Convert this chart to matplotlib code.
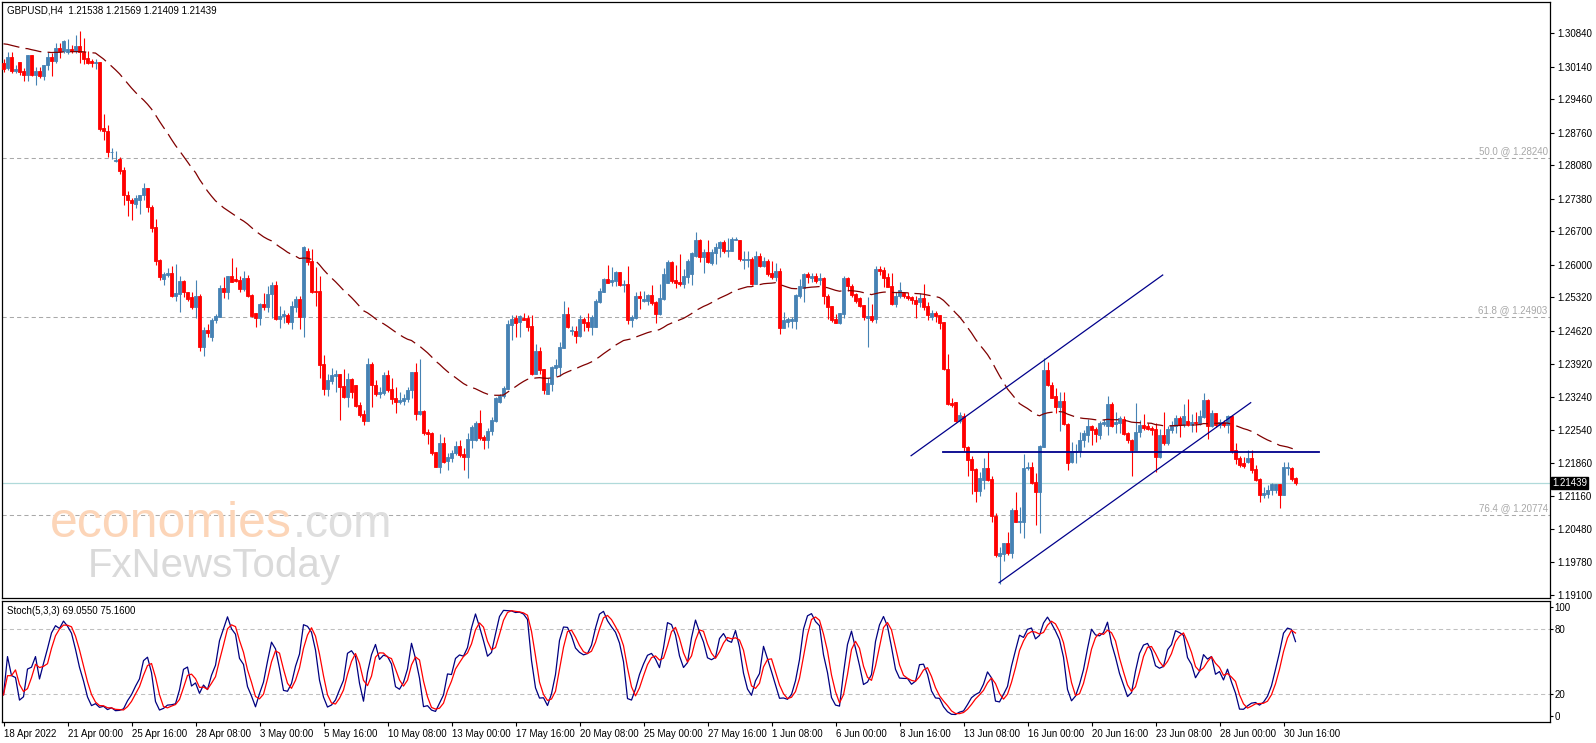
import numpy as np
import pandas as pd
import matplotlib
matplotlib.use("Agg")
import matplotlib.pyplot as plt
import matplotlib.transforms as mtrans

plt.rcParams["font.family"] = ["Liberation Sans", "DejaVu Sans"]

# GBPUSD H4 candles, prices in units of 0.0001 (13021 -> 1.3021)
OPEN = [
    13021, 13012, 13035, 13006, 13023, 13006, 12997, 13039, 12997, 13006, 12994, 13017, 13035, 13027, 13053, 13047, 13044, 13051, 13047, 13058,
    13044, 13033, 13027, 13021, 13025, 12887, 12880, 12835, 12817, 12821, 12798, 12745, 12736, 12727, 12736, 12745, 12760, 12720, 12679, 12610,
    12571, 12579, 12583, 12536, 12539, 12566, 12543, 12532, 12513, 12536, 12429, 12464, 12450, 12484, 12492, 12552, 12544, 12577, 12570, 12568,
    12550, 12572, 12537, 12499, 12490, 12518, 12511, 12539, 12557, 12487, 12494, 12495, 12480, 12513, 12529, 12492, 12629, 12608, 12545, 12545,
    12392, 12341, 12357, 12368, 12371, 12346, 12324, 12362, 12349, 12308, 12288, 12273, 12392, 12350, 12330, 12332, 12370, 12341, 12322, 12313,
    12316, 12320, 12339, 12376, 12288, 12294, 12251, 12249, 12208, 12178, 12227, 12191, 12196, 12206, 12222, 12205, 12199, 12234, 12234, 12270,
    12240, 12234, 12252, 12274, 12313, 12325, 12341, 12475, 12488, 12480, 12490, 12488, 12472, 12372, 12420, 12383, 12330, 12351, 12384, 12387,
    12426, 12498, 12461, 12462, 12452, 12487, 12480, 12471, 12470, 12523, 12544, 12570, 12565, 12566, 12585, 12557, 12560, 12484, 12488, 12535,
    12525, 12525, 12537, 12523, 12497, 12529, 12563, 12605, 12569, 12565, 12560, 12574, 12581, 12619, 12652, 12616, 12626, 12603, 12624, 12635,
    12647, 12628, 12629, 12652, 12651, 12611, 12611, 12612, 12560, 12619, 12598, 12608, 12582, 12574, 12587, 12468, 12480, 12483, 12483, 12535,
    12551, 12581, 12573, 12577, 12568, 12573, 12535, 12514, 12487, 12479, 12497, 12573, 12556, 12539, 12530, 12516, 12490, 12493, 12486, 12591,
    12589, 12574, 12556, 12518, 12534, 12541, 12535, 12532, 12527, 12523, 12530, 12514, 12492, 12500, 12495, 12481, 12382, 12312, 12313, 12274,
    12285, 12220, 12194, 12173, 12128, 12150, 12175, 12152, 12076, 11992, 11996, 12018, 11997, 12088, 12063, 12063, 12176, 12178, 12147, 12126,
    12220, 12380, 12350, 12325, 12304, 12316, 12267, 12187, 12208, 12210, 12234, 12244, 12263, 12257, 12244, 12267, 12264, 12309, 12267, 12270,
    12278, 12248, 12234, 12214, 12250, 12265, 12263, 12260, 12257, 12199, 12244, 12227, 12255, 12264, 12281, 12265, 12274, 12265, 12272, 12267,
    12283, 12318, 12264, 12290, 12265, 12271, 12265, 12284, 12213, 12196, 12185, 12189, 12196, 12173, 12152, 12119, 12121, 12129, 12129, 12143,
    12120, 12176, 12176, 12154,
]
HIGH = [
    13030, 13044, 13044, 13018, 13025, 13011, 13039, 13039, 13014, 13014, 13018, 13044, 13042, 13063, 13063, 13070, 13072, 13060, 13081, 13089,
    13075, 13046, 13030, 13030, 13025, 12916, 12893, 12845, 12837, 12825, 12805, 12755, 12739, 12745, 12747, 12771, 12760, 12725, 12695, 12613,
    12585, 12593, 12597, 12602, 12577, 12568, 12544, 12544, 12568, 12539, 12470, 12476, 12489, 12498, 12558, 12575, 12577, 12615, 12596, 12577,
    12588, 12579, 12539, 12500, 12521, 12542, 12555, 12565, 12567, 12514, 12506, 12500, 12525, 12536, 12536, 12640, 12635, 12633, 12596, 12577,
    12411, 12371, 12384, 12381, 12371, 12382, 12374, 12364, 12349, 12313, 12297, 12405, 12398, 12359, 12344, 12376, 12380, 12363, 12344, 12334,
    12330, 12344, 12377, 12395, 12404, 12297, 12256, 12251, 12208, 12246, 12241, 12206, 12213, 12231, 12233, 12217, 12248, 12266, 12273, 12297,
    12245, 12259, 12282, 12323, 12330, 12347, 12484, 12495, 12495, 12495, 12499, 12495, 12495, 12435, 12428, 12383, 12363, 12389, 12403, 12438,
    12525, 12513, 12472, 12472, 12495, 12492, 12499, 12495, 12528, 12551, 12573, 12600, 12596, 12588, 12586, 12569, 12598, 12495, 12544, 12546,
    12546, 12539, 12558, 12525, 12559, 12593, 12610, 12609, 12599, 12622, 12591, 12612, 12626, 12668, 12654, 12633, 12652, 12633, 12645, 12649,
    12651, 12656, 12658, 12658, 12652, 12629, 12629, 12617, 12629, 12624, 12616, 12612, 12609, 12603, 12593, 12501, 12492, 12491, 12539, 12570,
    12582, 12586, 12582, 12584, 12582, 12575, 12539, 12514, 12497, 12500, 12577, 12574, 12560, 12541, 12532, 12516, 12532, 12518, 12598, 12598,
    12595, 12584, 12584, 12544, 12565, 12544, 12544, 12534, 12534, 12541, 12559, 12523, 12506, 12504, 12495, 12481, 12414, 12321, 12314, 12293,
    12290, 12221, 12201, 12175, 12168, 12196, 12210, 12159, 12082, 12011, 12018, 12042, 12091, 12126, 12095, 12205, 12187, 12189, 12164, 12224,
    12405, 12398, 12356, 12342, 12335, 12335, 12269, 12230, 12226, 12251, 12254, 12277, 12265, 12262, 12274, 12277, 12325, 12314, 12293, 12284,
    12284, 12251, 12236, 12312, 12276, 12288, 12269, 12263, 12269, 12258, 12293, 12263, 12274, 12286, 12284, 12309, 12320, 12288, 12293, 12297,
    12332, 12320, 12297, 12291, 12277, 12276, 12286, 12286, 12227, 12201, 12199, 12213, 12213, 12182, 12154, 12136, 12140, 12145, 12143, 12143,
    12189, 12189, 12178, 12157,
]
LOW = [
    13004, 13008, 13002, 13001, 12997, 12985, 12985, 12994, 12976, 12990, 12987, 13008, 12994, 13021, 13032, 13042, 13041, 13042, 13042, 13021,
    13019, 13020, 13014, 13009, 12880, 12860, 12826, 12821, 12814, 12790, 12725, 12703, 12694, 12718, 12706, 12736, 12710, 12668, 12599, 12569,
    12557, 12574, 12532, 12525, 12501, 12532, 12525, 12508, 12488, 12419, 12410, 12449, 12440, 12478, 12491, 12530, 12528, 12565, 12565, 12543,
    12546, 12532, 12491, 12471, 12474, 12506, 12502, 12488, 12484, 12468, 12478, 12477, 12466, 12502, 12466, 12450, 12599, 12541, 12515, 12364,
    12329, 12327, 12352, 12335, 12276, 12322, 12304, 12321, 12304, 12283, 12265, 12273, 12304, 12327, 12322, 12329, 12335, 12310, 12290, 12309,
    12308, 12313, 12321, 12276, 12287, 12245, 12226, 12203, 12178, 12165, 12185, 12171, 12189, 12203, 12198, 12171, 12154, 12217, 12231, 12234,
    12215, 12217, 12245, 12272, 12312, 12321, 12340, 12442, 12449, 12450, 12484, 12461, 12370, 12372, 12371, 12330, 12330, 12337, 12367, 12368,
    12426, 12468, 12454, 12436, 12450, 12461, 12461, 12454, 12470, 12520, 12543, 12562, 12556, 12555, 12555, 12544, 12477, 12470, 12487, 12507,
    12523, 12516, 12516, 12479, 12495, 12527, 12562, 12562, 12551, 12555, 12551, 12562, 12558, 12617, 12607, 12584, 12603, 12600, 12602, 12616,
    12624, 12616, 12629, 12651, 12609, 12591, 12596, 12558, 12560, 12596, 12596, 12577, 12571, 12567, 12456, 12468, 12471, 12468, 12465, 12530,
    12523, 12563, 12565, 12563, 12558, 12518, 12486, 12481, 12478, 12477, 12488, 12546, 12532, 12521, 12511, 12485, 12429, 12481, 12478, 12579,
    12554, 12553, 12516, 12511, 12530, 12530, 12527, 12518, 12488, 12513, 12506, 12485, 12485, 12481, 12467, 12380, 12307, 12304, 12272, 12270,
    12210, 12159, 12121, 12105, 12117, 12131, 12149, 12062, 11989, 11934, 11982, 11994, 11987, 12063, 12039, 12029, 12171, 12143, 12056, 12040,
    12220, 12346, 12321, 12290, 12252, 12265, 12171, 12185, 12185, 12198, 12220, 12230, 12224, 12230, 12237, 12263, 12244, 12262, 12248, 12248,
    12244, 12227, 12159, 12214, 12241, 12255, 12255, 12244, 12168, 12196, 12224, 12224, 12248, 12248, 12241, 12262, 12263, 12251, 12251, 12265,
    12279, 12237, 12262, 12262, 12260, 12262, 12249, 12206, 12184, 12178, 12175, 12185, 12164, 12149, 12105, 12112, 12112, 12119, 12124, 12091,
    12119, 12161, 12149, 12141,
]
CLOSE = [
    13009, 13035, 13006, 13010, 13003, 12996, 13039, 12997, 13006, 12995, 13018, 13035, 13027, 13053, 13047, 13067, 13051, 13047, 13058, 13044,
    13030, 13021, 13021, 13025, 12884, 12880, 12835, 12836, 12819, 12797, 12745, 12736, 12729, 12739, 12745, 12760, 12720, 12678, 12609, 12574,
    12581, 12584, 12535, 12541, 12566, 12544, 12529, 12513, 12536, 12429, 12464, 12458, 12485, 12494, 12552, 12544, 12577, 12565, 12566, 12550,
    12572, 12535, 12494, 12490, 12518, 12511, 12539, 12557, 12487, 12494, 12497, 12480, 12514, 12529, 12492, 12638, 12607, 12544, 12544, 12391,
    12341, 12359, 12370, 12372, 12344, 12324, 12362, 12335, 12306, 12287, 12273, 12392, 12349, 12330, 12334, 12369, 12339, 12320, 12313, 12318,
    12322, 12339, 12376, 12288, 12294, 12249, 12247, 12206, 12178, 12227, 12189, 12198, 12206, 12222, 12203, 12199, 12236, 12261, 12270, 12238,
    12234, 12253, 12276, 12321, 12327, 12342, 12477, 12487, 12479, 12493, 12485, 12471, 12372, 12420, 12381, 12339, 12353, 12386, 12391, 12429,
    12498, 12470, 12464, 12452, 12487, 12478, 12470, 12492, 12525, 12546, 12570, 12563, 12569, 12586, 12557, 12560, 12484, 12491, 12535, 12530,
    12528, 12537, 12520, 12497, 12530, 12581, 12605, 12567, 12562, 12560, 12576, 12609, 12624, 12652, 12616, 12626, 12605, 12626, 12637, 12647,
    12628, 12631, 12654, 12654, 12612, 12612, 12612, 12560, 12619, 12598, 12608, 12580, 12574, 12587, 12468, 12485, 12486, 12486, 12537, 12555,
    12581, 12575, 12577, 12566, 12573, 12534, 12511, 12485, 12479, 12499, 12573, 12555, 12537, 12525, 12514, 12491, 12493, 12485, 12591, 12588,
    12572, 12554, 12518, 12535, 12548, 12534, 12530, 12527, 12518, 12530, 12513, 12495, 12500, 12493, 12479, 12382, 12309, 12307, 12274, 12286,
    12220, 12192, 12171, 12128, 12154, 12175, 12150, 12076, 11994, 11997, 12018, 11997, 12088, 12063, 12065, 12175, 12178, 12145, 12126, 12221,
    12380, 12349, 12322, 12304, 12316, 12267, 12185, 12211, 12211, 12235, 12248, 12263, 12255, 12246, 12270, 12271, 12309, 12264, 12271, 12279,
    12246, 12234, 12214, 12251, 12265, 12260, 12258, 12255, 12199, 12244, 12227, 12258, 12265, 12281, 12265, 12284, 12265, 12272, 12269, 12285,
    12318, 12264, 12291, 12265, 12271, 12265, 12284, 12210, 12194, 12182, 12180, 12196, 12171, 12150, 12120, 12124, 12129, 12143, 12143, 12120,
    12177, 12178, 12152, 12144,
]

DATE_LABELS = ["18 Apr 2022", "21 Apr 00:00", "25 Apr 16:00", "28 Apr 08:00", "3 May 00:00",
               "5 May 16:00", "10 May 08:00", "13 May 00:00", "17 May 16:00", "20 May 08:00",
               "25 May 00:00", "27 May 16:00", "1 Jun 08:00", "6 Jun 00:00", "8 Jun 16:00",
               "13 Jun 08:00", "16 Jun 00:00", "20 Jun 16:00", "23 Jun 08:00", "28 Jun 00:00",
               "30 Jun 16:00"]
BARS_PER_LABEL = 16
PRICE_TICKS = [1.30840, 1.30140, 1.29460, 1.28760, 1.28080, 1.27380, 1.26700, 1.26000, 1.25320,
               1.24620, 1.23920, 1.23240, 1.22540, 1.21860, 1.21160, 1.20480, 1.19780, 1.19100]
STOCH_TICKS = [0, 20, 80, 100]

HEADER = "GBPUSD,H4  1.21538 1.21569 1.21409 1.21439"
STOCH_LABEL = "Stoch(5,3,3) 69.0550 75.1600"
LAST_PRICE = 1.21439
EMA_PERIOD = 50
EMA_AT_FIRST_BAR = 1.3062
FIB_LEVELS = [("50.0", 1.28240), ("61.8", 1.24903), ("76.4", 1.20774)]
# trend lines as (bar index, price) anchors
CHANNEL_LINES = [((226.9, 1.22012), (289.8, 1.25788)),
                 ((248.9, 1.19358), (311.8, 1.23120))]
SUPPORT_LINE = ((234.9, 1.22082), (328.9, 1.22082))

n = len(CLOSE)
assert all(len(a) == n for a in (OPEN, HIGH, LOW)), [len(a) for a in (OPEN, HIGH, LOW, CLOSE)]
o = np.array(OPEN) / 1e4
h = np.array(HIGH) / 1e4
l = np.array(LOW) / 1e4
c = np.array(CLOSE) / 1e4
x = np.arange(n)

# EMA(50) of closes
ema = np.empty(n)
ema[0] = EMA_AT_FIRST_BAR
alpha = 2.0 / (EMA_PERIOD + 1)
for i in range(1, n):
    ema[i] = ema[i - 1] + alpha * (c[i] - ema[i - 1])

# Stochastic(5,3,3)
hh = pd.Series(h).rolling(5, min_periods=1).max()
ll = pd.Series(l).rolling(5, min_periods=1).min()
k = 100 * (pd.Series(c) - ll).rolling(3, min_periods=1).sum() / (hh - ll).rolling(3, min_periods=1).sum()
d = k.rolling(3, min_periods=1).mean()

BLUE = "#4682B4"
RED = "#FF0000"
W, H = 1596, 743


def box(left, top, right, bottom):
    return [left / W, 1 - bottom / H, (right - left) / W, (bottom - top) / H]


fig = plt.figure(figsize=(W / 100, H / 100), dpi=100)
ax = fig.add_axes(box(2, 2, 1550, 598))
sx = fig.add_axes(box(2, 601, 1550, 722))
xlim = (-0.375, 386.625)

# --- price panel ---
ax.set_xlim(*xlim)
ax.set_ylim(1.19038, 1.31494)
for lev_name, lev in FIB_LEVELS:
    ax.axhline(lev, color="#A9A9A9", lw=0.75, ls=(0, (4, 3)), zorder=1)
    ax.text(0.9985, lev + 0.0004, f"{lev_name} @ {lev:.5f}", transform=ax.get_yaxis_transform(),
            ha="right", va="bottom", fontsize=7, color="#A8A8A8")
ax.axhline(LAST_PRICE, color="#B0DADA", lw=0.9, zorder=1)

# watermark
fig.text(50 / W, 1 - 537 / H, "economies", fontsize=36, color="#FCD5B8", va="baseline", zorder=0)
fig.text(293 / W, 1 - 537 / H, ".com", fontsize=33, color="#DEDEDE", va="baseline", zorder=0)
fig.text(88 / W, 1 - 577 / H, "FxNewsToday", fontsize=29, color="#DADADA", va="baseline", zorder=0)

up = c >= o
col = np.where(up, BLUE, RED)
ax.vlines(x, l, h, colors=col, lw=0.8, zorder=3)
ax.bar(x, np.abs(c - o), bottom=np.minimum(o, c), width=0.55, color=col, edgecolor=col,
       linewidth=0.6, zorder=4)
ax.plot(x, ema, color="#800000", lw=0.9, ls=(0, (13, 5)), zorder=5)

for (x0, y0), (x1, y1) in CHANNEL_LINES:
    ax.plot([x0, x1], [y0, y1], color="#00008B", lw=0.9, zorder=6)
(sx0, sy0), (sx1, sy1) = SUPPORT_LINE
ax.plot([sx0, sx1], [sy0, sy1], color="#00008B", lw=1.3, zorder=6)

ax.yaxis.tick_right()
ax.set_yticks(PRICE_TICKS)
ax.set_yticklabels([f"{v:.5f}" for v in PRICE_TICKS])
ax.tick_params(axis="y", length=3, width=0.8, pad=2, labelsize=7)
ax.set_xticks([])
ax.text(0.0033, 0.986, HEADER, transform=ax.transAxes, fontsize=7, ha="left", va="center")
ax.text(1.0015, LAST_PRICE, f"{LAST_PRICE:.5f}", transform=ax.get_yaxis_transform(), fontsize=7,
        color="white", ha="left", va="center",
        bbox=dict(boxstyle="square,pad=0.12", fc="black", ec="black"))

# --- stochastic panel ---
sx.set_xlim(*xlim)
sx.set_ylim(-5.8, 105.8)
for lev in (20, 80):
    sx.axhline(lev, color="#C0C0C0", lw=0.75, ls=(0, (4, 3)), zorder=1)
sx.plot(x, k, color="#000080", lw=0.9, zorder=3)
sx.plot(x, d, color="#FF0000", lw=0.9, zorder=4)
sx.yaxis.tick_right()
sx.set_yticks(STOCH_TICKS)
sx.set_yticklabels([str(v) for v in STOCH_TICKS])
sx.tick_params(axis="y", length=2, width=0.8, pad=1, labelsize=7)
sx.set_xticks(np.arange(len(DATE_LABELS)) * BARS_PER_LABEL)
sx.set_xticklabels(DATE_LABELS)
sx.tick_params(axis="x", length=3, width=0.8, pad=2, labelsize=7)
for lab in sx.get_xticklabels():
    lab.set_ha("left")
sx.text(0.0033, 0.915, STOCH_LABEL, transform=sx.transAxes, fontsize=7, ha="left", va="center")

for a in (ax, sx):
    for sp in a.spines.values():
        sp.set_linewidth(0.9)
        sp.set_color("black")

fig.savefig("out.png", dpi=100)
